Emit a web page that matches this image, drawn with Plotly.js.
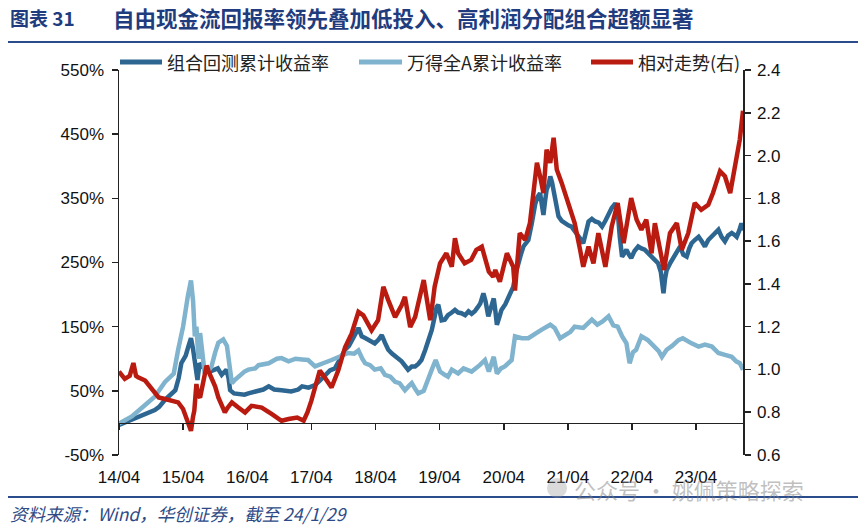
<!DOCTYPE html>
<html><head><meta charset="utf-8">
<script src="https://cdn.plot.ly/plotly-3.0.1.min.js"></script>
<style>html,body{margin:0;padding:0;background:#fff}#chart{width:865px;height:530px}</style>
</head><body><div id="chart"></div>
<script>
// ---------- DATA ----------
const seriesNames = ['组合回测累计收益率', '万得全A累计收益率', '相对走势(右)'];
const xTickVals = ['2014-04-01','2015-04-01','2016-04-01','2017-04-01','2018-04-01','2019-04-01','2020-04-01','2021-04-01','2022-04-01','2023-04-01'];
const xTickText = ['14/04','15/04','16/04','17/04','18/04','19/04','20/04','21/04','22/04','23/04'];
const leftTickVals = [-50, 50, 150, 250, 350, 450, 550];
const leftTickText = ['-50%', '50%', '150%', '250%', '350%', '450%', '550%'];
const rightTickVals = [0.6, 0.8, 1.0, 1.2, 1.4, 1.6, 1.8, 2.0, 2.2, 2.4];
const rightTickText = ['0.6', '0.8', '1.0', '1.2', '1.4', '1.6', '1.8', '2.0', '2.2', '2.4'];

// 组合回测累计收益率 (%)
const portDates = ['2014-04-01','2014-05-16','2014-06-13','2014-08-01','2014-08-28','2014-10-22','2014-11-16','2014-12-19','2015-02-16','2015-03-07','2015-03-22','2015-04-16','2015-05-01','2015-05-16','2015-05-28','2015-06-07','2015-06-22','2015-07-04','2015-07-16','2015-08-04','2015-09-01','2015-10-01','2015-10-16','2015-11-07','2015-12-04','2015-12-16','2015-12-25','2016-01-16','2016-02-16','2016-03-16','2016-04-07','2016-05-16','2016-06-04','2016-07-01','2016-08-01','2016-09-01','2016-10-13','2016-11-16','2016-12-07','2017-01-16','2017-02-07','2017-03-16','2017-04-22','2017-05-16','2017-06-16','2017-07-16','2017-08-13','2017-09-10','2017-10-10','2017-11-01','2017-11-16','2017-12-10','2017-12-25','2018-01-13','2018-02-04','2018-02-22','2018-03-28','2018-04-19','2018-05-07','2018-05-25','2018-06-13','2018-07-04','2018-07-22','2018-08-10','2018-08-28','2018-09-16','2018-10-04','2018-10-25','2018-11-13','2018-12-01','2018-12-19','2019-01-10','2019-02-01','2019-02-16','2019-03-04','2019-03-16','2019-03-25','2019-04-13','2019-05-01','2019-05-19','2019-06-10','2019-06-28','2019-07-16','2019-08-04','2019-08-25','2019-09-13','2019-10-01','2019-10-19','2019-11-04','2019-11-19','2019-12-07','2019-12-19','2020-01-04','2020-01-19','2020-02-04','2020-02-13','2020-02-22','2020-03-07','2020-03-19','2020-04-10','2020-04-28','2020-05-13','2020-05-25','2020-06-10','2020-06-22','2020-07-07','2020-07-22','2020-08-07','2020-08-19','2020-09-07','2020-09-19','2020-09-28','2020-10-10','2020-10-25','2020-11-04','2020-11-13','2020-11-22','2020-12-01','2020-12-13','2020-12-22','2021-01-01','2021-01-10','2021-01-22','2021-02-07','2021-02-25','2021-03-16','2021-04-04','2021-04-22','2021-05-10','2021-06-01','2021-06-16','2021-06-28','2021-07-13','2021-07-28','2021-08-16','2021-09-04','2021-09-25','2021-10-13','2021-11-01','2021-11-19','2021-12-07','2021-12-28','2022-01-10','2022-01-22','2022-02-04','2022-02-19','2022-03-01','2022-03-16','2022-03-28','2022-04-16','2022-05-07','2022-05-25','2022-06-13','2022-07-01','2022-07-22','2022-08-10','2022-08-28','2022-09-13','2022-09-28','2022-10-07','2022-10-16','2022-11-07','2022-11-25','2022-12-13','2023-01-01','2023-01-19','2023-02-07','2023-02-22','2023-03-07','2023-03-25','2023-04-16','2023-05-04','2023-05-22','2023-06-10','2023-07-01','2023-07-19','2023-08-07','2023-08-25','2023-09-13','2023-10-01','2023-10-22','2023-11-07','2023-11-19','2023-12-04','2023-12-16','2023-12-25'];
const portValues = [-3,2,5,12,15,20,25,36,51,70,93,105,119,132,115,98,67,93,90,83,80,83,85,75,83,70,51,46,45,44,46,48,49,52,57,52,51,49,49,52,57,55,59,65,75,82,85,100,114,120,129,140,148,135,132,129,124,130,137,125,114,108,103,100,96,90,83,88,88,92,98,114,130,145,165,181,184,160,161,168,172,176,172,171,168,174,170,174,180,186,202,190,166,180,194,175,153,165,176,185,197,205,212,235,249,262,275,282,285,310,330,342,352,358,340,324,345,363,372,384,375,363,345,322,315,311,308,306,300,290,285,280,300,314,318,314,312,306,315,327,335,342,330,290,259,265,270,262,257,268,275,272,270,265,259,255,249,235,202,225,238,250,259,268,275,262,259,272,280,285,290,283,275,285,290,295,301,290,283,292,296,293,290,300,311,300];

// 万得全A累计收益率 (%)
const windDates = ['2014-04-01','2014-06-13','2014-08-28','2014-10-22','2014-12-19','2015-02-07','2015-03-04','2015-04-01','2015-04-28','2015-05-16','2015-05-28','2015-06-07','2015-06-16','2015-06-28','2015-07-07','2015-07-19','2015-08-01','2015-08-19','2015-09-10','2015-10-01','2015-10-19','2015-11-16','2015-12-07','2015-12-19','2016-01-04','2016-01-25','2016-02-10','2016-03-16','2016-04-07','2016-05-16','2016-06-04','2016-07-16','2016-08-01','2016-09-16','2016-10-13','2016-11-22','2017-01-01','2017-02-07','2017-03-13','2017-04-22','2017-05-16','2017-06-07','2017-07-25','2017-09-22','2017-10-28','2017-12-01','2017-12-25','2018-01-16','2018-02-01','2018-03-01','2018-03-28','2018-05-01','2018-05-25','2018-06-25','2018-07-22','2018-08-16','2018-09-16','2018-10-10','2018-10-25','2018-11-16','2018-12-01','2019-01-01','2019-01-28','2019-02-16','2019-03-10','2019-04-04','2019-05-01','2019-05-19','2019-06-10','2019-07-16','2019-08-16','2019-10-01','2019-11-16','2019-12-16','2020-01-07','2020-02-04','2020-02-22','2020-03-16','2020-04-07','2020-05-01','2020-05-16','2020-06-04','2020-07-13','2020-08-19','2020-09-28','2020-11-01','2020-12-22','2021-01-16','2021-02-16','2021-03-16','2021-04-16','2021-05-10','2021-06-28','2021-08-16','2021-09-16','2021-10-16','2021-11-19','2021-12-16','2022-01-10','2022-02-04','2022-03-01','2022-03-19','2022-04-07','2022-04-25','2022-05-25','2022-07-01','2022-08-10','2022-09-01','2022-09-19','2022-10-16','2022-11-16','2022-12-22','2023-01-16','2023-02-07','2023-03-07','2023-04-16','2023-05-22','2023-07-01','2023-08-07','2023-09-13','2023-10-22','2023-11-16','2023-12-07','2023-12-25'];
const windValues = [-1,10,28,41,64,77,114,150,197,222,190,135,150,100,140,110,80,80,88,110,125,130,120,95,62,68,72,80,83,85,90,92,93,100,101,96,100,99,98,88,90,93,98,106,109,108,113,100,93,90,83,85,75,72,64,62,51,58,62,52,46,50,72,83,98,80,75,72,83,77,85,80,90,98,80,103,77,85,88,95,98,135,132,132,140,145,153,148,132,137,142,150,148,161,153,158,166,152,150,135,124,93,110,114,135,129,119,112,103,114,120,129,132,128,124,119,122,119,109,106,103,96,93,83];

// 相对走势(右)
const relDates = ['2014-04-01','2014-04-16','2014-05-04','2014-06-01','2014-06-22','2014-07-07','2014-07-19','2014-08-28','2014-10-04','2014-11-13','2014-12-19','2015-01-28','2015-03-04','2015-04-01','2015-04-16','2015-05-01','2015-05-16','2015-05-28','2015-06-04','2015-06-16','2015-06-25','2015-07-07','2015-07-25','2015-08-13','2015-08-25','2015-09-10','2015-10-01','2015-10-19','2015-11-07','2015-11-25','2015-12-10','2016-01-04','2016-02-10','2016-03-19','2016-04-25','2016-06-22','2016-08-19','2016-10-13','2016-11-22','2017-01-10','2017-02-16','2017-03-10','2017-04-01','2017-04-25','2017-05-19','2017-06-16','2017-07-25','2017-09-01','2017-10-10','2017-11-16','2017-12-25','2018-01-22','2018-03-10','2018-04-16','2018-05-16','2018-06-13','2018-07-22','2018-08-28','2018-09-16','2018-10-16','2018-11-13','2019-01-01','2019-02-07','2019-02-25','2019-03-04','2019-04-04','2019-05-10','2019-06-10','2019-06-28','2019-07-16','2019-08-22','2019-09-28','2019-10-28','2019-11-28','2020-01-07','2020-02-01','2020-02-13','2020-03-10','2020-04-19','2020-05-25','2020-06-04','2020-07-01','2020-08-01','2020-08-28','2020-10-07','2020-10-25','2020-11-13','2020-12-01','2020-12-22','2021-01-10','2021-01-28','2021-02-25','2021-04-04','2021-05-10','2021-06-10','2021-06-28','2021-07-28','2021-08-25','2021-09-22','2021-11-01','2021-12-07','2022-01-10','2022-02-13','2022-03-28','2022-04-28','2022-05-25','2022-06-22','2022-07-22','2022-08-10','2022-09-07','2022-10-01','2022-11-04','2022-12-13','2023-01-10','2023-02-16','2023-03-25','2023-05-01','2023-06-10','2023-07-07','2023-08-16','2023-09-13','2023-10-13','2023-11-10','2023-12-07','2023-12-25'];
const relValues = [0.99,0.97,0.956,0.97,1.03,0.97,0.963,0.948,0.909,0.869,0.862,0.854,0.846,0.815,0.78,0.744,0.713,0.78,0.807,0.932,0.88,0.869,0.95,1.018,0.99,0.963,0.92,0.869,0.83,0.799,0.82,0.846,0.822,0.799,0.83,0.822,0.791,0.76,0.768,0.775,0.76,0.8,0.854,0.93,0.995,0.963,0.916,0.995,1.104,1.167,1.269,1.253,1.183,1.23,1.386,1.324,1.245,1.3,1.339,1.198,1.245,1.418,1.23,1.339,1.386,1.496,1.543,1.48,1.613,1.543,1.496,1.512,1.559,1.574,1.457,1.433,1.465,1.41,1.543,1.48,1.369,1.637,1.606,1.684,1.966,1.903,1.825,2.028,1.966,2.083,1.935,1.872,1.778,1.684,1.559,1.48,1.574,1.496,1.637,1.48,1.668,1.778,1.59,1.801,1.7,1.653,1.7,1.543,1.684,1.574,1.465,1.637,1.684,1.559,1.637,1.778,1.746,1.77,1.825,1.927,1.903,1.825,1.95,2.076,2.209];

// ---------- STYLE / LAYOUT ----------
const COLORS = ['#2D6691', '#80B3CD', '#BA1B10'];
const W = 865, H = 530;
const M = {l: 119, r: 122, t: 70, b: 75};
const PW = W - M.l - M.r, PH = H - M.t - M.b;
const px = x => (x - M.l) / PW;          // pixel x -> paper x
const py = y => (H - M.b - y) / PH;      // pixel y -> paper y
const numFont = 'Liberation Sans, Arial, sans-serif';
const cjkFont = 'Noto Sans CJK SC, sans-serif';

const traces = [
  {x: portDates, y: portValues, name: seriesNames[0], type: 'scatter', mode: 'lines', yaxis: 'y',
   line: {color: COLORS[0], width: 4.5}},
  {x: windDates, y: windValues, name: seriesNames[1], type: 'scatter', mode: 'lines', yaxis: 'y',
   line: {color: COLORS[1], width: 4.5}},
  {x: relDates, y: relValues, name: seriesNames[2], type: 'scatter', mode: 'lines', yaxis: 'y2',
   line: {color: COLORS[2], width: 4.5}}
];

const shapes = [
  {type: 'line', xref: 'paper', yref: 'paper', x0: px(8), x1: px(858), y0: py(42), y1: py(42), line: {color: '#2B4C8C', width: 2}},
  {type: 'line', xref: 'paper', yref: 'paper', x0: px(8), x1: px(858), y0: py(497), y1: py(497), line: {color: '#2B4C8C', width: 2}},
  {type: 'circle', xref: 'paper', yref: 'paper', x0: px(547), x1: px(567), y0: py(498), y1: py(478), fillcolor: 'rgba(150,150,150,0.35)', line: {width: 0}}
];
const legendX = [[120, 162, 165], [359, 402, 405], [591, 633, 636]];
const annotations = [
  {text: '<b>图表 31</b>', xref: 'paper', yref: 'paper', x: px(8), y: py(18), xanchor: 'left', yanchor: 'middle', showarrow: false,
   font: {family: cjkFont, size: 19, color: '#1F3C7E'}},
  {text: '<b>自由现金流回报率领先叠加低投入、高利润分配组合超额显著</b>', xref: 'paper', yref: 'paper', x: px(111), y: py(18), xanchor: 'left', yanchor: 'middle', showarrow: false,
   font: {family: cjkFont, size: 21.5, color: '#1F3C7E'}},
  {text: '<i>资料来源：Wind，华创证券，截至 24/1/29</i>', xref: 'paper', yref: 'paper', x: px(8), y: py(513), xanchor: 'left', yanchor: 'middle', showarrow: false,
   font: {family: cjkFont, size: 17.5, color: '#2E4A86'}},
  {text: '公众号 · 姚佩策略探索', xref: 'paper', yref: 'paper', x: px(572), y: py(489), xanchor: 'left', yanchor: 'middle', showarrow: false,
   font: {family: cjkFont, size: 22, color: 'rgba(130,130,130,0.5)'}}
];
seriesNames.forEach((n, i) => {
  const [a, b, t] = legendX[i];
  shapes.push({type: 'line', xref: 'paper', yref: 'paper', x0: px(a), x1: px(b), y0: py(62), y1: py(62), line: {color: COLORS[i], width: 5}});
  annotations.push({text: n, xref: 'paper', yref: 'paper', x: px(t), y: py(62), xanchor: 'left', yanchor: 'middle', showarrow: false,
    font: {family: cjkFont, size: 18, color: '#222'}});
});

const axisCommon = {ticks: 'outside', ticklen: 6, tickwidth: 1.5, tickcolor: '#222', showline: true, linecolor: '#222', linewidth: 1.5,
  showgrid: false, zeroline: false, tickfont: {family: numFont, size: 17, color: '#111'}};
const layout = {
  width: W, height: H, margin: M, paper_bgcolor: '#fff', plot_bgcolor: '#fff', showlegend: false,
  xaxis: Object.assign({}, axisCommon, {type: 'date', range: [portDates[0], portDates[portDates.length - 1]], anchor: 'free', position: 50 / 600,
    tickmode: 'array', tickvals: xTickVals, ticktext: xTickText, ticklabelstandoff: 32}),
  yaxis: Object.assign({}, axisCommon, {range: [-50, 550], tickmode: 'array', tickvals: leftTickVals, ticktext: leftTickText, ticklabelstandoff: 4}),
  yaxis2: Object.assign({}, axisCommon, {range: [0.6, 2.4], tickmode: 'array', tickvals: rightTickVals, ticktext: rightTickText,
    overlaying: 'y', side: 'right', ticklabelstandoff: 3}),
  shapes: shapes, annotations: annotations
};
Plotly.newPlot('chart', traces, layout, {staticPlot: true, displayModeBar: false});
</script>
</body></html>
